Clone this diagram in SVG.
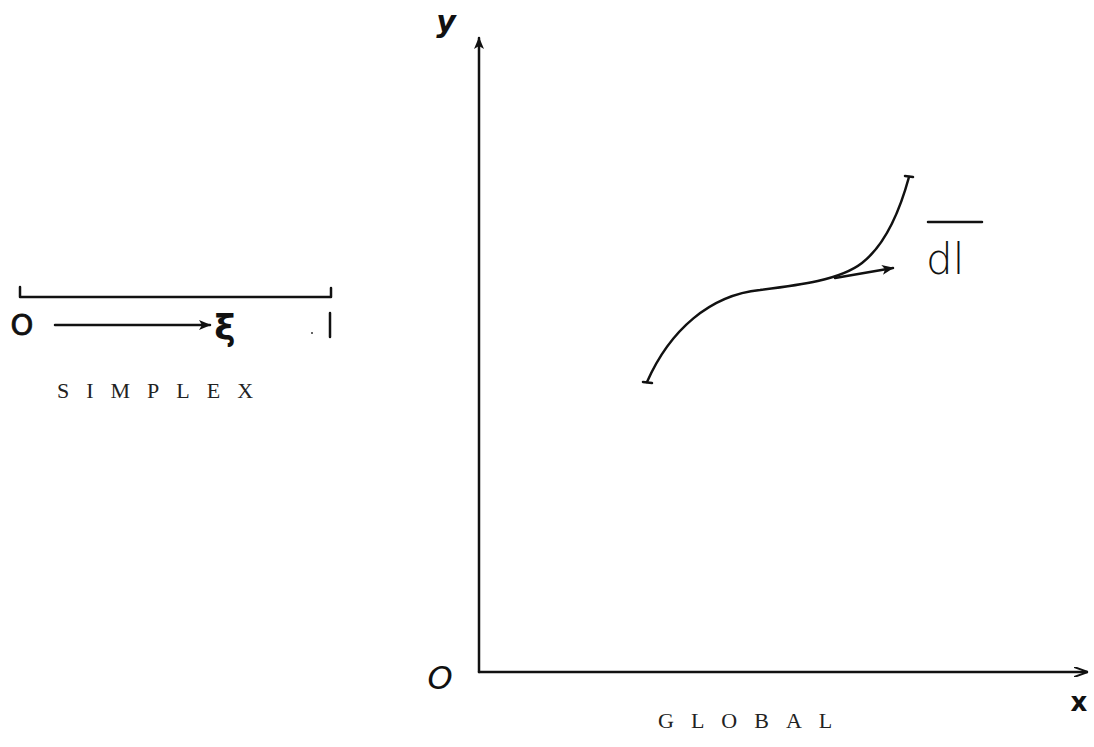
<svg xmlns="http://www.w3.org/2000/svg" width="1094" height="747" viewBox="0 0 1094 747">
<style>
.ln{fill:none;stroke:#111;stroke-width:2.5;stroke-linecap:round;stroke-linejoin:round}
.hand{font-family:"DejaVu Sans","Liberation Sans",sans-serif;fill:#111}
.type{font-family:"Liberation Serif","DejaVu Serif",serif;font-size:22px;fill:#222}
</style>
<defs>
<marker id="ah" viewBox="0 0 12 10" refX="11" refY="5" markerWidth="12" markerHeight="10" markerUnits="userSpaceOnUse" orient="auto">
<path d="M0,0 L12,5 L0,10 L3,5 Z" fill="#111"/>
</marker>
<marker id="ah2" viewBox="0 0 14 10" refX="13" refY="5" markerWidth="14" markerHeight="10" markerUnits="userSpaceOnUse" orient="auto">
<path d="M0,0 L14,5 L0,10" fill="none" stroke="#111" stroke-width="2"/>
</marker>
</defs>
<rect width="1094" height="747" fill="#fff"/>
<g id="simplex">
<path class="ln" d="M20,287 L20,297 L331,297 L331,288"/>
<text class="hand" x="22" y="335" font-size="29" text-anchor="middle" stroke="#111" stroke-width="0.8">O</text>
<text class="hand" x="225" y="340" font-size="36" text-anchor="middle" font-weight="bold">ξ</text>
<line class="ln" x1="330" y1="313" x2="330" y2="337" stroke-width="3.5"/>
<circle cx="312" cy="333" r="1" fill="#333"/>
<text class="type" x="57" y="398" letter-spacing="17">SIMPLEX</text>
</g>
<g id="axes">
<line class="ln" x1="479" y1="672" x2="479" y2="38" marker-end="url(#ah)"/>
<line class="ln" x1="479" y1="672" x2="1087" y2="672" marker-end="url(#ah2)"/>
<text class="hand" x="446" y="32" font-size="30" font-style="italic" text-anchor="middle" font-weight="bold">y</text>
<text class="hand" x="440" y="689" font-size="32" font-style="italic" text-anchor="middle">O</text>
<text class="hand" x="1079" y="711" font-size="26" text-anchor="middle" font-weight="bold">x</text>
<text class="type" x="658" y="728" letter-spacing="17">GLOBAL</text>
</g>
<g id="curve">
<path class="ln" d="M647,382 C670,330 710,295 760,290 C800,285 840,280 862,263 C885,245 900,210 909,177"/>
<line class="ln" x1="643" y1="382" x2="652" y2="383" stroke-width="3"/>
<line class="ln" x1="905" y1="176" x2="913" y2="177" stroke-width="3"/>
<text class="hand" x="926" y="274" font-size="42" font-weight="300">dl</text>
<line class="ln" x1="928" y1="222" x2="982" y2="222" stroke-width="2"/>
</g>
<g id="connectors">
<line class="ln" x1="55" y1="325" x2="210" y2="325" stroke-width="2" marker-end="url(#ah)"/>
<line class="ln" x1="835" y1="278" x2="893" y2="268" stroke-width="2" marker-end="url(#ah)"/>
</g>
</svg>
